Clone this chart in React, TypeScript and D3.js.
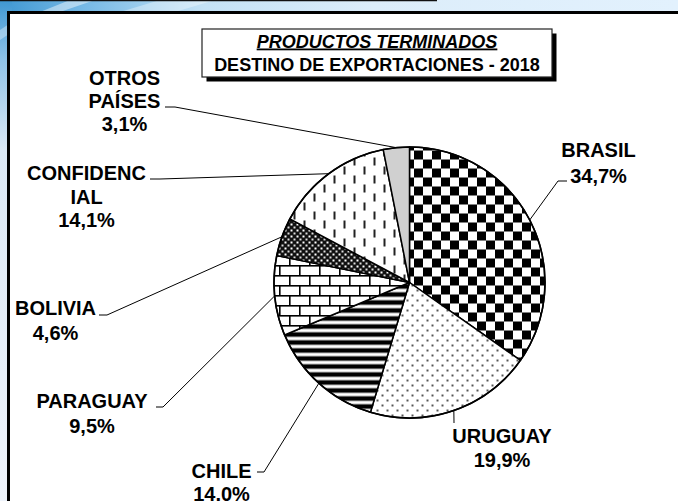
import React from "react";
import * as d3 from "d3";

const categories = ["BRASIL", "URUGUAY", "CHILE", "PARAGUAY", "BOLIVIA", "CONFIDENCIAL", "OTROS PAÍSES"];
const values = [34.7, 19.9, 14.0, 9.5, 4.6, 14.1, 3.1];
const nameLines = [["BRASIL"], ["URUGUAY"], ["CHILE"], ["PARAGUAY"], ["BOLIVIA"], ["CONFIDENC", "IAL"], ["OTROS", "PAÍSES"]];
const titleLine1 = "PRODUCTOS TERMINADOS";
const titleLine2 = "DESTINO DE EXPORTACIONES - 2018";

// layout (positions, not data)
const W = 678, H = 501;
const cx = 409.5, cy = 282.5, R = 135.5;
const labelLayout = [
  { x: 598.5, y: 157, lh: 26, leader: [[567, 181], [558, 181]] },
  { x: 502, y: 443, lh: 24, leader: [[454, 423], [454, 423]] },
  { x: 221.5, y: 478, lh: 23, leader: [[257, 472], [264, 472]] },
  { x: 92, y: 408, lh: 25, leader: [[156, 407], [163, 407]] },
  { x: 55.5, y: 315, lh: 25, leader: [[99, 315], [107, 315]] },
  { x: 86.5, y: 180, lh: 23.5, leader: [[150, 179], [160, 179]] },
  { x: 124.5, y: 85, lh: 23, leader: [[165, 107], [175, 107]] },
];
const fills = ["url(#pCheck)", "url(#pDots)", "url(#pStripes)", "url(#pBrick)", "url(#pWeave)", "url(#pDash)", "#d0d0d0"];

const FONT = "'Liberation Sans', Arial, Helvetica, sans-serif";

export default function App() {
  const pie = d3.pie<number>().sort(null).value((d) => d)(values);
  const arc = d3.arc<d3.PieArcDatum<number>>().innerRadius(0).outerRadius(R);
  const edge = d3.arc<d3.PieArcDatum<number>>().innerRadius(R).outerRadius(R);
  const fmt = d3.format(".1f");
  const pct = (v: number) => fmt(v).replace(".", ",") + "%";
  const line = d3.line();
  const cs = 9; // checker square

  return (
    <svg width={W} height={H} style={{ position: "absolute", left: 0, top: 0, display: "block" }}>
      <defs>
        <linearGradient id="bgH" x1="0" y1="0" x2="1" y2="0">
          <stop offset="0" stopColor="#3f97d2" />
          <stop offset="0.12" stopColor="#74b8e5" />
          <stop offset="0.3" stopColor="#c4e2f6" />
          <stop offset="0.55" stopColor="#dcedfa" />
          <stop offset="1" stopColor="#e2f1fd" />
        </linearGradient>
        <linearGradient id="bgV" x1="0" y1="0" x2="0" y2="1">
          <stop offset="0" stopColor="#3f97d2" />
          <stop offset="0.12" stopColor="#8fc3e8" />
          <stop offset="0.3" stopColor="#dbe8f5" />
          <stop offset="1" stopColor="#eef3fb" />
        </linearGradient>
        <pattern id="pCheck" patternUnits="userSpaceOnUse" width={cs * 2} height={cs * 2} x={cx} y={cy - R}>
          <rect width={cs * 2} height={cs * 2} fill="#fff" />
          <rect x="0" y="0" width={cs} height={cs} fill="#000" />
          <rect x={cs} y={cs} width={cs} height={cs} fill="#000" />
        </pattern>
        <pattern id="pDots" patternUnits="userSpaceOnUse" width="10" height="10">
          <rect width="10" height="10" fill="#fff" />
          <rect x="2" y="2" width="2" height="2" fill="#555" />
          <rect x="7" y="7" width="2" height="2" fill="#555" />
        </pattern>
        <pattern id="pStripes" patternUnits="userSpaceOnUse" width="8" height="8">
          <rect width="8" height="8" fill="#fff" />
          <rect x="0" y="2" width="8" height="4" fill="#000" />
          <rect x="0" y="1.3" width="8" height="0.7" fill="#999" />
          <rect x="0" y="6" width="8" height="0.7" fill="#999" />
        </pattern>
        <pattern id="pBrick" patternUnits="userSpaceOnUse" width="20" height="20" x={cx} y={cy}>
          <rect width="20" height="20" fill="#fff" />
          <rect x="0" y="0" width="20" height="1.6" fill="#000" />
          <rect x="0" y="10" width="20" height="1.6" fill="#000" />
          <rect x="0" y="0" width="1.6" height="10" fill="#000" />
          <rect x="10" y="10" width="1.6" height="10" fill="#000" />
        </pattern>
        <pattern id="pWeave" patternUnits="userSpaceOnUse" width="6" height="6">
          <rect width="6" height="6" fill="#111" />
          <rect x="1" y="1" width="2" height="2" fill="#fff" />
          <rect x="4" y="4" width="2" height="2" fill="#ddd" />
        </pattern>
        <pattern id="pDash" patternUnits="userSpaceOnUse" width="20" height="18">
          <rect width="20" height="18" fill="#fff" />
          <rect x="4" y="1" width="2" height="8" fill="#222" />
          <rect x="14" y="10" width="2" height="8" fill="#222" />
        </pattern>
      </defs>

      {/* background */}
      <rect x={0} y={0} width={W} height={H} fill="url(#bgH)" />
      <rect x={0} y={0} width={12} height={H} fill="url(#bgV)" />
      <polygon points="40,12 70,0 95,0 60,12" fill="#ffffff" opacity={0.45} />
      <polygon points="0,30 12,22 12,32 0,40" fill="#ffffff" opacity={0.35} />
      <polygon points="120,12 160,0 215,0 175,12" fill="#ffffff" opacity={0.35} />
      <line x1={0} y1={0.6} x2={437} y2={0.6} stroke="#111" strokeWidth={1.2} />

      {/* frame */}
      <rect x={8.5} y={12.5} width={W + 20} height={H + 20} fill="#fff" stroke="#000" strokeWidth={3} />

      {/* title */}
      <rect x={206.5} y={33.5} width={350} height={48} fill="#000" />
      <rect x={202} y={29} width={350} height={48} fill="#fff" stroke="#222" strokeWidth={1.2} />
      <text x={377} y={47.5} textAnchor="middle" fontFamily={FONT} fontWeight="bold" fontStyle="italic" fontSize={18} textDecoration="underline">
        {titleLine1}
      </text>
      <text x={377} y={70.5} textAnchor="middle" fontFamily={FONT} fontWeight="bold" fontSize={18}>
        {titleLine2}
      </text>

      {/* pie */}
      <g transform={`translate(${cx},${cy})`}>
        {pie.map((d, i) => (
          <path key={categories[i]} d={arc(d) || ""} fill={fills[i]} stroke="#000" strokeWidth={1.5} strokeLinejoin="round" />
        ))}
        <circle r={R} fill="none" stroke="#000" strokeWidth={1.6} />
      </g>

      {/* leaders + labels */}
      {pie.map((d, i) => {
        const L = labelLayout[i];
        const [ex, ey] = edge.centroid(d);
        const pts: [number, number][] = [
          L.leader[0] as [number, number],
          L.leader[1] as [number, number],
          [cx + ex, cy + ey],
        ];
        const lines = [...nameLines[i], pct(values[i])];
        return (
          <g key={"lab" + i}>
            <path d={line(pts) || ""} fill="none" stroke="#000" strokeWidth={1} />
            <text textAnchor="middle" fontFamily={FONT} fontWeight="bold" fontSize={20} fill="#000">
              {lines.map((t, j) => (
                <tspan key={j} x={L.x} y={L.y + j * L.lh}>
                  {t}
                </tspan>
              ))}
            </text>
          </g>
        );
      })}
    </svg>
  );
}
